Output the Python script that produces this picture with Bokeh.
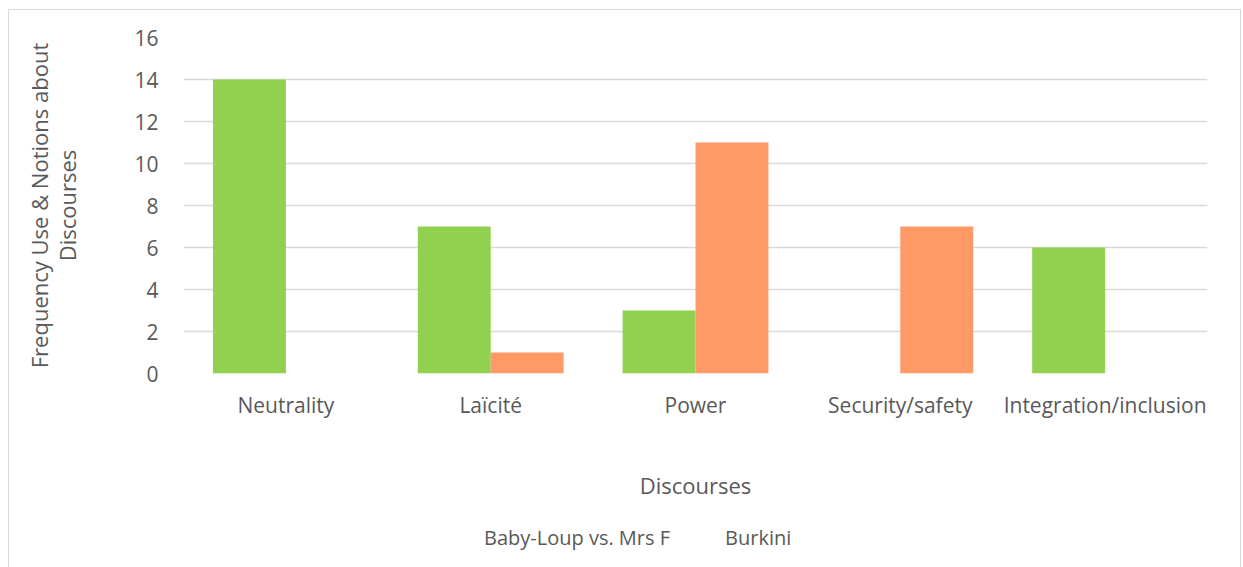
from bokeh.plotting import figure
from bokeh.layouts import column
from bokeh.models import ColumnDataSource, FactorRange, SingleIntervalTicker, Legend, LegendItem
from bokeh.transform import dodge
from bokeh.embed import file_html
from bokeh.resources import INLINE

categories = ["Neutrality", "Laïcité", "Power", "Security/safety", "Integration/inclusion"]
baby_loup = [14, 7, 3, 0, 6]
burkini = [0, 1, 11, 7, 0]
series_names = ["Baby-Loup vs. Mrs F", "Burkini"]

FONT = "Open Sans"
TXT = "#595959"
GREEN = "#92D050"
ORANGE = "#FF9966"

src = ColumnDataSource(dict(cat=categories, a=baby_loup, b=burkini))

p = figure(x_range=FactorRange(*categories), y_range=(0, 16),
           frame_width=1024, frame_height=336, output_backend="svg", toolbar_location=None,
           min_border_left=174, min_border_right=33, min_border_top=27, min_border_bottom=140)

p.vbar(x=dodge("cat", -0.178, range=p.x_range), top="a", width=0.356, source=src,
       fill_color=GREEN, line_color=None)
p.vbar(x=dodge("cat", 0.178, range=p.x_range), top="b", width=0.356, source=src,
       fill_color=ORANGE, line_color=None)

p.outline_line_color = None
p.xgrid.grid_line_color = None
p.ygrid.grid_line_color = "#d9d9d9"
p.ygrid.grid_line_width = 1.5
p.yaxis.ticker = SingleIntervalTicker(interval=2)
for ax in (p.xaxis, p.yaxis):
    ax.axis_line_color = None
    ax.major_tick_line_color = None
    ax.minor_tick_line_color = None
    ax.major_label_text_font = FONT
    ax.major_label_text_color = TXT
    ax.major_label_text_font_size = "21px"
    ax.axis_label_text_font = FONT
    ax.axis_label_text_font_style = "normal"
    ax.axis_label_text_color = TXT
    ax.axis_label_text_font_size = "22px"
p.yaxis.major_label_standoff = 19
p.xaxis.major_label_standoff = 11
p.xaxis.axis_label = "Discourses"
p.xaxis.axis_label_standoff = 48
p.yaxis.axis_label = "Frequency Use & Notions about\nDiscourses"
p.yaxis.axis_label_standoff = 49
p.yaxis.axis_label_text_line_height = 0.95

# legend strip below the chart: renderers with no rows only supply the legend swatches
empty = ColumnDataSource(dict(cat=[], a=[], b=[]))
lf = figure(x_range=FactorRange(*categories), y_range=(0, 16),
            frame_width=1231, frame_height=54, output_backend="svg", toolbar_location=None,
            x_axis_type=None, y_axis_type=None, min_border=0)
lf.outline_line_color = None
lf.xgrid.visible = False
lf.ygrid.visible = False
g1 = lf.vbar(x="cat", top="a", width=0.356, source=empty, fill_color=GREEN, line_color=None)
g2 = lf.vbar(x="cat", top="b", width=0.356, source=empty, fill_color=ORANGE, line_color=None)

lg = Legend(items=[LegendItem(label=series_names[0], renderers=[g1]),
                   LegendItem(label=series_names[1], renderers=[g2])],
            orientation="horizontal", location=(456, 16))
lg.border_line_color = None
lg.background_fill_alpha = 0
lg.margin = 0
lg.padding = 0
lg.spacing = 36
lg.label_standoff = 6
lg.glyph_width = 13
lg.glyph_height = 13
lg.label_text_font = FONT
lg.label_text_color = TXT
lg.label_text_font_size = "20px"
lf.add_layout(lg, "center")

layout = column(p, lf, spacing=0, margin=(9, 0, 0, 8),
                styles={"border": "1px solid #d9d9d9"})

open("out.html", "w").write(file_html(layout, INLINE))
